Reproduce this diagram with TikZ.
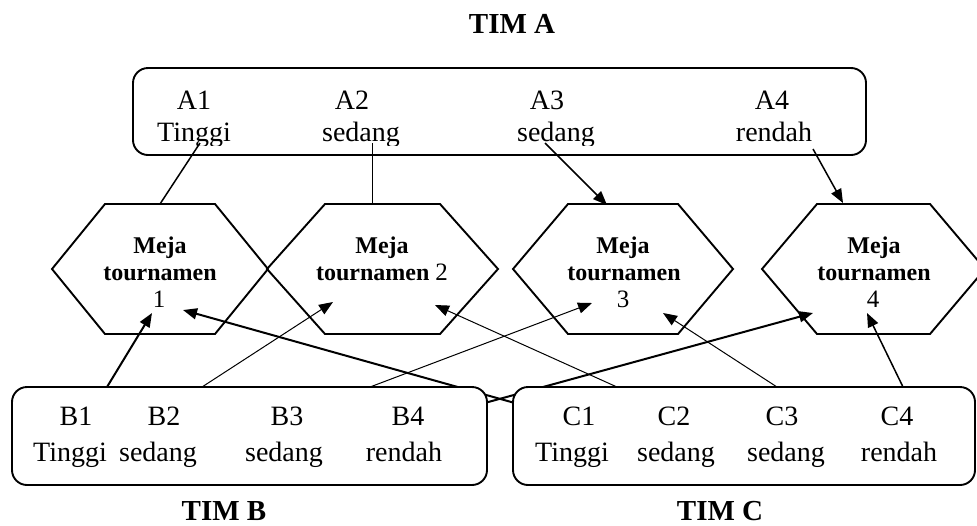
\documentclass[tikz,border=0pt]{standalone}
\usepackage{fontspec}
\setmainfont{Liberation Serif}
\usetikzlibrary{arrows.meta}
\begin{document}
\begin{tikzpicture}[x=0.5pt,y=-0.5pt,
  txt/.style={anchor=base,inner sep=0pt,font=\fontsize{14}{16}\selectfont},
  hx/.style={anchor=base,inner sep=0pt,font=\fontsize{12}{14}\selectfont\bfseries},
  dig/.style={anchor=base,inner sep=0pt,font=\fontsize{12.5}{14}\selectfont},
  ttl/.style={anchor=base,inner sep=0pt,font=\fontsize{14.5}{16}\selectfont\bfseries},
  frame/.style={draw,line width=0.95pt,rounded corners=7.5pt},
  hexa/.style={draw,line width=0.95pt},
  thinl/.style={line width=0.5pt},
  medl/.style={line width=0.75pt},
  thickl/.style={line width=1pt},
  arr/.style={-{Triangle[length=7pt,width=5.5pt]}}
]
\useasboundingbox (0,0) rectangle (977,525);

% titles
\node[ttl] (timA) at (512,33) {TIM A};
\node[ttl] (timB) at (224,520) {TIM B};
\node[ttl] (timC) at (720,520) {TIM C};

% top box
\draw[frame] (133,68) rectangle (866,155);
\begin{scope}
\clip (133,60) rectangle (866,145);
\node[txt] (a1) at (194,109) {A1};
\node[txt] (a1l) at (194,141) {Tinggi};
\node[txt] (a2) at (352,109) {A2};
\node[txt] (a2l) at (361,141) {sedang};
\node[txt] (a3) at (547,109) {A3};
\node[txt] (a3l) at (556,141) {sedang};
\node[txt] (a4) at (772,109) {A4};
\node[txt] (a4l) at (774,141) {rendah};
\end{scope}

% hexagons
\draw[hexa] (52,269) -- (105,204) -- (215,204) -- (268,269) -- (215,334) -- (105,334) -- cycle;
\draw[hexa] (267,269) -- (325,204) -- (440,204) -- (498,269) -- (440,334) -- (325,334) -- cycle;
\draw[hexa] (513,269) -- (568,204) -- (678,204) -- (733,269) -- (678,334) -- (568,334) -- cycle;
\draw[hexa] (762,269) -- (817,204) -- (930,204) -- (985,269) -- (930,334) -- (817,334) -- cycle;

\node[hx] (m1a) at (160,253) {Meja};
\node[hx] (m1b) at (160,280) {tournamen};
\node[dig] (m1c) at (159,307) {1};
\node[hx] (m2a) at (382,253) {Meja};
\node[hx] (m2b) at (382,280) {tournamen {\mdseries\fontsize{12.5}{14}\selectfont 2}};
\node[hx] (m3a) at (623,253) {Meja};
\node[hx] (m3b) at (624,280) {tournamen};
\node[dig] (m3c) at (623,307) {3};
\node[hx] (m4a) at (874,253) {Meja};
\node[hx] (m4b) at (874,280) {tournamen};
\node[dig] (m4c) at (873,307) {4};

% connector end points
\coordinate (sA1) at (200,143);
\coordinate (sA2) at (372,143);
\coordinate (sA3) at (545,143);
\coordinate (sA4) at (813,149);
\coordinate (tA1) at (160,204);
\coordinate (tA2) at (372,204);
\coordinate (tA3) at (607,205);
\coordinate (tA4) at (843,203);

\coordinate (sB1) at (107,387);
\coordinate (sB2) at (202,387);
\coordinate (sB3) at (370,387);
\coordinate (sB4) at (408,424);
\coordinate (sC1) at (579,421);
\coordinate (sC2) at (617,387);
\coordinate (sC3) at (777,387);
\coordinate (sC4) at (903,387);

\coordinate (tB1) at (152,313);
\coordinate (tB2) at (333,302);
\coordinate (tB3) at (592,303);
\coordinate (tB4) at (813,313);
\coordinate (tC1) at (183,310);
\coordinate (tC2) at (435,305);
\coordinate (tC3) at (663,313);
\coordinate (tC4) at (867,313);

% connectors
\draw[medl] (sA1) -- (tA1);
\draw[thinl] (sA2) -- (tA2);
\draw[medl,arr] (sA3) -- (tA3);
\draw[medl,arr] (sA4) -- (tA4);

\draw[thickl,arr] (sB1) -- (tB1);
\draw[thinl,arr] (sB2) -- (tB2);
\draw[thinl,arr] (sB3) -- (tB3);
\draw[thickl,arr] (sB4) -- (tB4);
\draw[thickl,arr] (sC1) -- (tC1);
\draw[thinl,arr] (sC2) -- (tC2);
\draw[thinl,arr] (sC3) -- (tC3);
\draw[medl,arr] (sC4) -- (tC4);

% bottom boxes
\draw[frame,fill=white] (12,387) rectangle (487,485);
\draw[frame,fill=white] (513,387) rectangle (975,485);

\node[txt] (b1) at (76,425) {B1};
\node[txt] (b1l) at (70,461) {Tinggi};
\node[txt] (b2) at (164,425) {B2};
\node[txt] (b2l) at (158,461) {sedang};
\node[txt] (b3) at (287,425) {B3};
\node[txt] (b3l) at (284,461) {sedang};
\node[txt] (b4) at (408,425) {B4};
\node[txt] (b4l) at (404,461) {rendah};

\node[txt] (c1) at (579,425) {C1};
\node[txt] (c1l) at (572,461) {Tinggi};
\node[txt] (c2) at (674,425) {C2};
\node[txt] (c2l) at (676,461) {sedang};
\node[txt] (c3) at (782,425) {C3};
\node[txt] (c3l) at (786,461) {sedang};
\node[txt] (c4) at (897,425) {C4};
\node[txt] (c4l) at (899,461) {rendah};
\end{tikzpicture}
\end{document}
